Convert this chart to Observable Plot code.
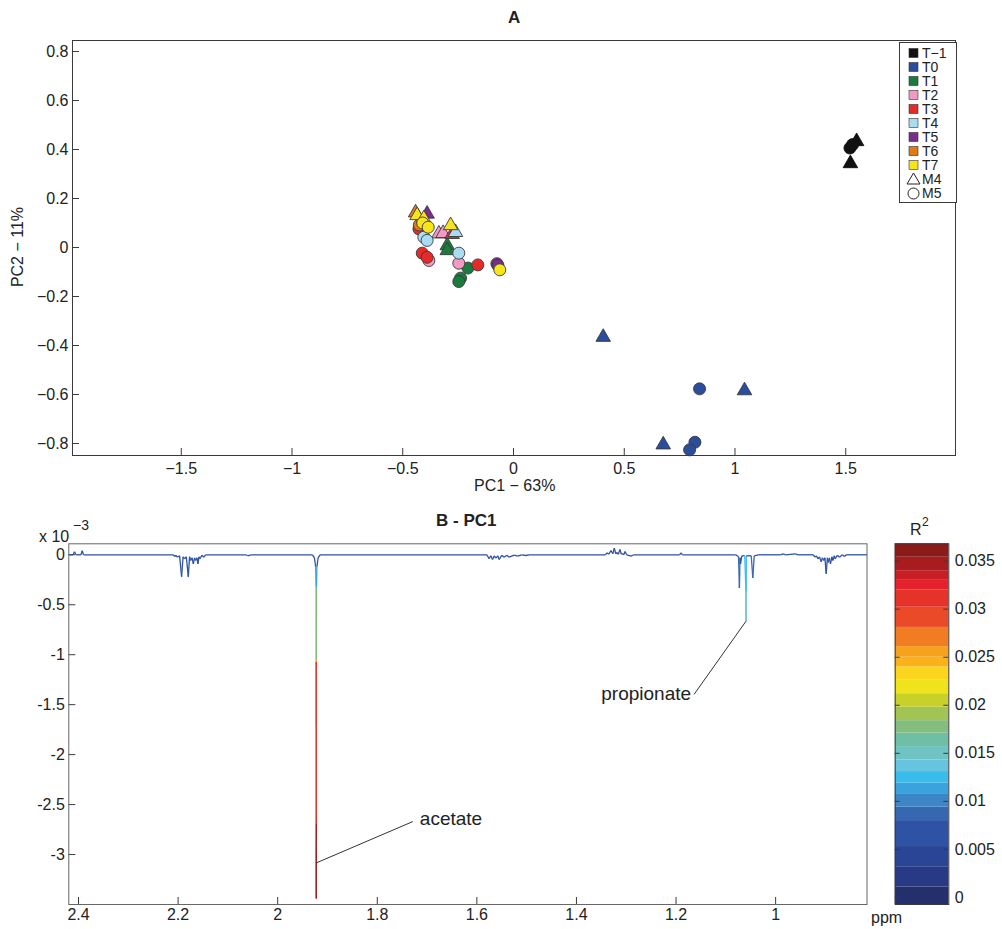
<!DOCTYPE html>
<html><head><meta charset="utf-8">
<script src="https://cdn.jsdelivr.net/npm/d3@7"></script>
<script src="https://cdn.jsdelivr.net/npm/@observablehq/plot@0.6"></script>
<style>
body{margin:0;background:#fff;font-family:"Liberation Sans",Arial,sans-serif;color:#222;}
#root{position:relative;width:1002px;height:929px;overflow:hidden;}
.abs{position:absolute;white-space:nowrap;line-height:1;}
svg{overflow:visible;}
</style></head><body><div id="root"></div>
<script>
// ---------- Panel A: PCA scores ----------
const groups = ["T-1","T0","T1","T2","T3","T4","T5","T6","T7"];
const groupLabels = ["T−1","T0","T1","T2","T3","T4","T5","T6","T7"];
const groupColors = ["#111111","#2a4d9e","#1b7a3e","#f29ac4","#e52a2a","#a9dcf2","#7a2c91","#e07a16","#f7e41a"];
const models = ["M4","M5"];
const scoreGroup = ["T-1","T-1","T-1","T-1",
  "T0","T0","T0","T0","T0","T0",
  "T1","T1","T1","T1","T1",
  "T2","T2","T2","T2",
  "T3","T3","T3","T3","T3",
  "T4","T4","T4","T4",
  "T5","T5","T5",
  "T6","T6",
  "T7","T7","T7","T7","T7","T7"];
const scoreModel = ["M4","M4","M5","M5",
  "M4","M4","M4","M5","M5","M5",
  "M4","M4","M5","M5","M5",
  "M4","M4","M5","M5",
  "M4","M5","M5","M5","M5",
  "M4","M5","M5","M5",
  "M4","M5","M5",
  "M4","M5",
  "M4","M4","M4","M5","M5","M5"];
const scorePC1 = [1.521,1.549,1.519,1.531,
  0.405,1.043,0.676,0.840,0.819,0.795,
  -0.299,-0.299,-0.206,-0.239,-0.247,
  -0.337,-0.318,-0.382,-0.247,
  -0.277,-0.427,-0.412,-0.390,-0.161,
  -0.262,-0.405,-0.390,-0.247,
  -0.390,-0.075,-0.070,
  -0.442,-0.425,
  -0.435,-0.405,-0.284,-0.410,-0.385,-0.062];
const scorePC2 = [0.343,0.433,0.406,0.420,
  -0.366,-0.584,-0.805,-0.577,-0.795,-0.826,
  0.008,-0.012,-0.084,-0.125,-0.139,
  0.056,0.058,-0.053,-0.064,
  0.054,0.076,-0.023,-0.040,-0.071,
  0.062,0.042,0.029,-0.023,
  0.137,-0.066,-0.073,
  0.142,0.092,
  0.131,0.118,0.090,0.100,0.083,-0.091];
const pc1Ticks = [-1.5,-1,-0.5,0,0.5,1,1.5];
const pc2Ticks = [0.8,0.6,0.4,0.2,0,-0.2,-0.4,-0.6,-0.8];

// ---------- Panel B: PC1 loadings spectrum (x 10^-3), vertices [ppm, loading, R2] ----------
const spectrumVertices = [
  [2.4195,0,0.006],[2.411,0,0.006],[2.408,0.03,0.006],[2.405,0,0.006],[2.395,0,0.006],[2.3926,0.04,0.006],[2.390,0,0.006],
  [2.210,0,0.006],[2.2064,-0.017,0.006],[2.204,-0.005,0.006],[2.2016,-0.024,0.006],[2.197,-0.01,0.006],[2.193,-0.22,0.006],[2.190,-0.02,0.006],
  [2.187,-0.04,0.006],[2.1835,-0.02,0.006],[2.1795,-0.22,0.006],[2.177,-0.02,0.006],[2.1749,-0.057,0.006],[2.172,-0.03,0.006],
  [2.1694,-0.09,0.006],[2.167,-0.03,0.006],[2.1648,-0.057,0.006],[2.162,-0.03,0.006],[2.1602,-0.09,0.006],[2.158,-0.02,0.006],
  [2.1562,-0.04,0.006],[2.152,-0.005,0.006],[2.1481,-0.024,0.006],[2.145,0,0.006],
  [2.064,0,0.006],[2.060,-0.01,0.006],[2.054,0,0.006],
  [1.930,0,0.006],[1.9262,-0.03,0.006],[1.9238,-0.12,0.006],[1.9228,-0.32,0.0115],[1.9226,-1.05,0.018],[1.9226,-1.07,0.025],
  [1.9225,-2.69,0.031],[1.9225,-3.44,0.035],[1.9224,-2.69,0.031],[1.9224,-1.07,0.025],[1.9224,-1.05,0.018],
  [1.9222,-0.32,0.0115],[1.9212,-0.12,0.006],[1.9188,-0.03,0.006],[1.915,0,0.006],
  [1.580,0,0.006],[1.5753,-0.04,0.006],[1.572,-0.01,0.006],[1.5685,-0.047,0.006],[1.565,-0.01,0.006],[1.5618,-0.034,0.006],
  [1.558,-0.01,0.006],[1.5552,-0.047,0.006],[1.550,-0.005,0.006],[1.5451,-0.024,0.006],[1.540,-0.005,0.006],[1.5351,-0.024,0.006],
  [1.525,-0.003,0.006],[1.5182,-0.014,0.006],[1.510,0,0.006],[1.5015,-0.007,0.006],[1.495,0,0.006],
  [1.342,0,0.006],[1.3387,0.02,0.006],[1.335,0.005,0.006],[1.3307,0.043,0.006],[1.327,0.01,0.006],[1.324,0.066,0.006],
  [1.321,0.01,0.006],[1.3192,0.023,0.006],[1.316,0.005,0.006],[1.3126,0.053,0.006],[1.310,0.005,0.006],[1.308,0.013,0.006],
  [1.305,0,0.006],[1.3025,0.033,0.006],[1.299,0,0.006],[1.2905,-0.014,0.006],[1.285,0,0.006],
  [1.193,0,0.006],[1.190,0.02,0.006],[1.187,0,0.006],
  [1.080,0,0.006],[1.0745,-0.02,0.006],[1.0727,-0.333,0.0085],[1.0715,-0.03,0.006],[1.0705,-0.09,0.006],[1.068,-0.01,0.006],
  [1.062,-0.01,0.006],[1.0596,-0.37,0.0125],[1.0594,-0.664,0.0145],[1.0592,-0.37,0.0125],[1.0588,-0.01,0.006],
  [1.049,-0.01,0.006],[1.0458,-0.233,0.0085],[1.043,-0.01,0.006],[1.035,0,0.006],
  [0.990,0,0.006],[0.985,0.01,0.006],[0.980,0,0.006],[0.960,0.01,0.006],[0.955,0,0.006],
  [0.925,0,0.006],[0.920,-0.024,0.006],[0.918,-0.01,0.006],[0.9152,-0.04,0.006],[0.912,-0.02,0.006],[0.9085,-0.07,0.006],
  [0.906,-0.03,0.006],[0.9032,-0.057,0.006],[0.901,-0.03,0.006],[0.8985,-0.19,0.006],[0.896,-0.03,0.006],[0.8939,-0.077,0.006],
  [0.892,-0.03,0.006],[0.8898,-0.09,0.006],[0.887,-0.02,0.006],[0.885,-0.057,0.006],[0.882,-0.01,0.006],[0.8804,-0.04,0.006],
  [0.876,-0.005,0.006],[0.8717,-0.024,0.006],[0.866,0,0.006],[0.8617,-0.017,0.006],[0.858,0,0.006],[0.8165,0,0.006]
];
const ppmTicks = [2.4,2.2,2,1.8,1.6,1.4,1.2,1];
const loadTicks = [0,-0.5,-1,-1.5,-2,-2.5,-3];
const annNames = ["acetate","propionate"];
const annPeakPpm = [1.9225,1.0594];
const annPeakVal = [-3.084,-0.664];
const annTailPpm = [1.7286,1.1638];
const annTailVal = [-2.67,-1.397];

// ---------- Colorbar (R2) ----------
const r2Ticks = [0,0.005,0.01,0.015,0.02,0.025,0.03,0.035];
const r2Breaks = [0.0011,0.0032,0.0053,0.0080,0.0094,0.0108,0.0119,0.0131,0.0143,0.0157,0.0171,0.0184,
  0.0198,0.0212,0.0226,0.0240,0.0250,0.0261,0.0281,0.0302,0.0320,0.0330,0.0340,0.0354];
const r2Colors = ["#262f6e","#283a86","#2a4596","#2e52a4","#3568b0","#3c85c7","#3aa2dc","#39bbec","#66c4de",
  "#6fc3c3","#6ebfa6","#84be7e","#a2c454","#c7d12a","#eee31c","#fbd41e","#f9b21a","#f7a21c","#f27c22",
  "#ea4a27","#e6332a","#e4212c","#c81e24","#a81c1f","#8a1b18"];
const r2Domain = [-0.00073,0.0368];

const FONT = "Liberation Sans, Arial, Helvetica, sans-serif";
const AX = "#3a3a3a";
const root = document.getElementById("root");
function place(el, left, top){ el.style.position="absolute"; el.style.left=left+"px"; el.style.top=top+"px"; root.appendChild(el); return el; }
function label(html, left, top, css){ const d=document.createElement("div"); d.className="abs"; d.innerHTML=html; d.style.cssText += css||""; place(d,left,top); return d; }
const minusFmt = d => String(d).replace("-", "−");

// ----- Panel A -----
const scores = scoreGroup.map((g,i)=>({group:g, model:scoreModel[i], pc1:scorePC1[i], pc2:scorePC2[i]}));
const marksA = [];
groups.forEach(g => models.forEach(m => {
  const d = scores.filter(s => s.group===g && s.model===m);
  if (!d.length) return;
  marksA.push(Plot.dot(d, {x:"pc1", y:"pc2", fill:"group",
    symbol: m==="M4" ? "triangle" : "circle", r: m==="M4" ? 5.4 : 6,
    stroke: g==="T-1" ? "#111" : "#3a3a3a", strokeWidth: 0.9}));
}));
const A_W = 1002, A_H = 500, A_L = 72, A_R = 47, A_T = 40, A_B = 45;
const plotA = Plot.plot({
  width:A_W, height:A_H, marginLeft:A_L, marginRight:A_R, marginTop:A_T, marginBottom:A_B,
  style:{fontFamily:FONT, fontSize:"16px", color:"#222", background:"transparent"},
  x:{domain:[-1.991,1.9955]},
  y:{domain:[-0.849,0.845]},
  color:{domain:groups, range:groupColors},
  marks:[
    Plot.tickX(pc1Ticks, {x:d=>d, insetTop:(A_H-A_T-A_B)-7, stroke:AX}),
    Plot.tickY(pc2Ticks, {y:d=>d, insetRight:(A_W-A_L-A_R)-7, stroke:AX}),
    Plot.axisX({ticks:pc1Ticks, tickSize:0, tickPadding:7, label:null, tickFormat:minusFmt, fontSize:16}),
    Plot.axisY({ticks:pc2Ticks, tickSize:0, tickPadding:4, label:null, tickFormat:minusFmt, fontSize:16}),
    ...marksA,
    Plot.frame({stroke:AX, strokeWidth:1})
  ]
});
place(plotA, 0, 0);

// legend for panel A
const leg = d3.create("svg").attr("width",58).attr("height",161);
leg.append("rect").attr("x",0.5).attr("y",0.5).attr("width",57).attr("height",160).attr("fill","#fff").attr("stroke",AX);
const legItems = groupLabels.map((l,i)=>({label:l, color:groupColors[i], kind:"sq"})).concat(models.map((m,i)=>({label:m, kind:i===0?"tri":"circ"})));
legItems.forEach((it,i)=>{
  const cy = 11 + i*14;
  if (it.kind==="sq") leg.append("rect").attr("x",10).attr("y",cy-4.5).attr("width",9).attr("height",9).attr("fill",it.color).attr("stroke","#333").attr("stroke-width",0.6);
  else if (it.kind==="tri") leg.append("path").attr("d",`M${14.5},${cy-6}L${21},${cy+5}L${8},${cy+5}Z`).attr("fill","none").attr("stroke","#222").attr("stroke-width",1);
  else leg.append("circle").attr("cx",14.5).attr("cy",cy+0.5).attr("r",5.5).attr("fill","none").attr("stroke","#222").attr("stroke-width",1);
  leg.append("text").attr("x",23).attr("y",cy).attr("dy","0.36em").attr("font-family",FONT).attr("font-size",14).attr("fill","#222").text(it.label);
});
place(leg.node(), 899, 41.5);

label("A", 508, 9, "font-size:17px;font-weight:bold;");
label("PC1 − 63%", 474, 478, "font-size:16px;");
label("PC2 − 11%", 18, 247, "font-size:16px;transform:translate(-50%,-50%) rotate(-90deg);");

// ----- Panel B -----
const segs = d3.pairs(spectrumVertices).map(([a,b]) => ({x1:a[0], y1:a[1], x2:b[0], y2:b[1], r2:(b[1] < a[1] ? b : a)[2]}));
const anns = annNames.map((n,i)=>({name:n, px:annPeakPpm[i], pv:annPeakVal[i], tx:annTailPpm[i], tv:annTailVal[i]}));
const colorScale = {type:"threshold", domain:r2Breaks, range:r2Colors};
const B_W = 1002, B_H = 429, B_L = 68.3, B_R = 135.5, B_T = 43.3, B_B = 25;
const plotB = Plot.plot({
  width:B_W, height:B_H, marginLeft:B_L, marginRight:B_R, marginTop:B_T, marginBottom:B_B,
  style:{fontFamily:FONT, fontSize:"16px", color:"#222", background:"transparent"},
  x:{domain:[2.4195,0.8165]},
  y:{domain:[-3.5,0.11]},
  color:colorScale,
  marks:[
    Plot.tickX(ppmTicks, {x:d=>d, insetTop:(B_H-B_T-B_B)-7, stroke:AX}),
    Plot.tickY(loadTicks, {y:d=>d, insetRight:(B_W-B_L-B_R)-7, stroke:AX}),
    Plot.axisX({ticks:ppmTicks, tickSize:0, tickPadding:4, label:null, tickFormat:d=>String(d), fontSize:16}),
    Plot.axisY({ticks:loadTicks, tickSize:0, tickPadding:4, label:null, tickFormat:d=>String(d), fontSize:16}),
    Plot.link(segs, {x1:"x1", y1:"y1", x2:"x2", y2:"y2", stroke:"r2", strokeWidth:1.3}),
    Plot.link(anns, {x1:"px", y1:"pv", x2:"tx", y2:"tv", stroke:"#333", strokeWidth:1}),
    Plot.text(anns.filter(d=>d.name==="acetate"), {x:"tx", y:"tv", text:"name", textAnchor:"start", dx:7, dy:-3, fontSize:19, fill:"#222"}),
    Plot.text(anns.filter(d=>d.name==="propionate"), {x:"tx", y:"tv", text:"name", textAnchor:"end", dx:-3, dy:0, fontSize:19, fill:"#222"}),
    Plot.frame({stroke:"#666", strokeWidth:1})
  ]
});
place(plotB, 0, 500);
label("B - PC1", 436, 512, "font-size:17px;font-weight:bold;");
label("x 10", 39, 529, "font-size:16px;");
label("−3", 73, 518, "font-size:14px;");
label("ppm", 871, 910, "font-size:16px;");

// ----- Colorbar -----
const bands = r2Colors.map((c,i)=>{
  const lo = i===0 ? r2Domain[0] : r2Breaks[i-1];
  const hi = i===r2Colors.length-1 ? r2Domain[1] : r2Breaks[i];
  return {lo, hi, mid:(lo+hi)/2};
});
const C_W = 122, C_L = 14.7, C_R = 53.7;
const plotC = Plot.plot({
  width:C_W, height:B_H, marginLeft:C_L, marginRight:C_R, marginTop:B_T, marginBottom:B_B,
  style:{fontFamily:FONT, fontSize:"16px", color:"#222", background:"transparent"},
  y:{domain:r2Domain},
  color:colorScale,
  marks:[
    Plot.rect(bands, {y1:"lo", y2:"hi", fill:"mid"}),
    Plot.tickY(r2Ticks, {y:d=>d, insetRight:(C_W-C_L-C_R)-5, stroke:AX}),
    Plot.tickY(r2Ticks, {y:d=>d, insetLeft:(C_W-C_L-C_R)-5, stroke:AX}),
    Plot.axisY({anchor:"right", ticks:r2Ticks, tickSize:0, tickPadding:6, label:null, tickFormat:d=>String(d), fontSize:16}),
    Plot.frame({stroke:AX, strokeWidth:1})
  ]
});
place(plotC, 880, 500);
label("R", 910, 522, "font-size:16px;");
label("2", 922, 516, "font-size:12px;");
</script></body></html>
